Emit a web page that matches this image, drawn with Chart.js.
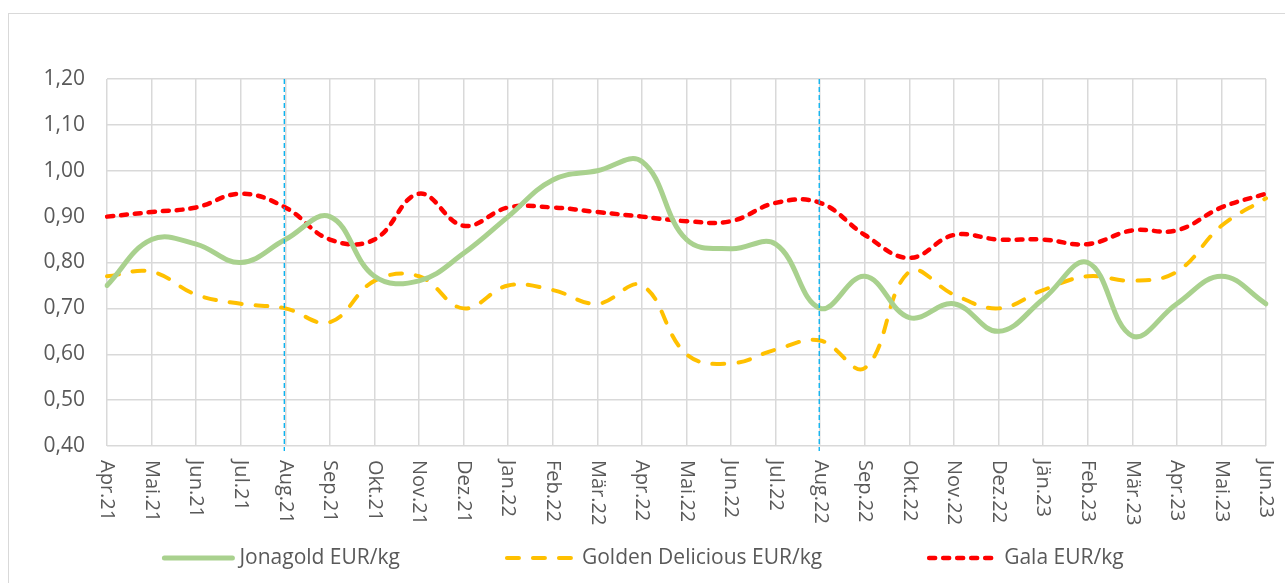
<!DOCTYPE html>
<html>
<head>
<meta charset="utf-8">
<script src="https://cdn.jsdelivr.net/npm/chart.js@4"></script>
<style>
  html, body { margin: 0; padding: 0; background: #fff; }
  #wrap { width: 1285px; height: 583px; }
</style>
</head>
<body>
<div id="wrap"><canvas id="grafico"></canvas></div>
<script>
const monate = ["Apr.21", "Mai.21", "Jun.21", "Jul.21", "Aug.21", "Sep.21", "Okt.21", "Nov.21", "Dez.21",
  "Jan.22", "Feb.22", "Mär.22", "Apr.22", "Mai.22", "Jun.22", "Jul.22", "Aug.22", "Sep.22", "Okt.22",
  "Nov.22", "Dez.22", "Jän.23", "Feb.23", "Mär.23", "Apr.23", "Mai.23", "Jun.23"];

const jonagold = [0.75, 0.85, 0.84, 0.80, 0.85, 0.90, 0.77, 0.76, 0.82, 0.90, 0.98, 1.00, 1.02, 0.85,
  0.83, 0.84, 0.70, 0.77, 0.68, 0.71, 0.65, 0.72, 0.80, 0.64, 0.71, 0.77, 0.71];
const golden = [0.77, 0.78, 0.73, 0.71, 0.70, 0.67, 0.76, 0.77, 0.70, 0.75, 0.74, 0.71, 0.75, 0.60,
  0.58, 0.61, 0.63, 0.57, 0.78, 0.73, 0.70, 0.74, 0.77, 0.76, 0.78, 0.88, 0.94];
const gala = [0.90, 0.91, 0.92, 0.95, 0.92, 0.85, 0.85, 0.95, 0.88, 0.92, 0.92, 0.91, 0.90, 0.89,
  0.89, 0.93, 0.93, 0.86, 0.81, 0.86, 0.85, 0.85, 0.84, 0.87, 0.87, 0.92, 0.95];

const markierungen = ["Aug.21", "Aug.22"]; // blaue Trennlinien

const schrift = "'Open Sans', sans-serif";
const grau = "#595959";

// Rahmen, Trennlinien, gedrehte Monatsnamen und Legende
const extras = {
  id: "extras",
  beforeDraw(chart) {
    const ctx = chart.ctx;
    ctx.save();
    ctx.strokeStyle = "#d9d9d9";
    ctx.lineWidth = 1;
    ctx.strokeRect(8.5, 13.5, 1300, 620);
    ctx.restore();
  },
  afterDatasetsDraw(chart) {
    const ctx = chart.ctx;
    const x = chart.scales.x;
    const area = chart.chartArea;
    ctx.save();
    ctx.strokeStyle = "#00b0f0";
    ctx.lineWidth = 1.3;
    ctx.setLineDash([5, 3]);
    markierungen.forEach((m) => {
      const px = x.getPixelForValue(monate.indexOf(m)) - 1;
      ctx.beginPath();
      ctx.moveTo(px, area.top);
      ctx.lineTo(px, area.bottom + 5);
      ctx.stroke();
    });
    ctx.restore();
  },
  afterDraw(chart) {
    const ctx = chart.ctx;
    const x = chart.scales.x;
    const area = chart.chartArea;
    ctx.save();
    ctx.fillStyle = grau;
    ctx.font = "20px " + schrift;
    ctx.textAlign = "left";
    ctx.textBaseline = "middle";
    monate.forEach((m, i) => {
      ctx.save();
      ctx.translate(x.getPixelForValue(i), area.bottom + 14);
      ctx.rotate(Math.PI / 2);
      ctx.fillText(m, 0, 0);
      ctx.restore();
    });

    // Legende
    ctx.font = "21px " + schrift;
    const probe = 74, abstand = 4, luecke = 104;
    const items = chart.data.datasets.map((d) => ({ d, w: probe + abstand + ctx.measureText(d.label).width }));
    const gesamt = items.reduce((s, it) => s + it.w, 0) + luecke * (items.length - 1);
    let lx = (chart.width - gesamt) / 2;
    const ly = 558;
    items.forEach((it) => {
      ctx.save();
      ctx.strokeStyle = it.d.borderColor;
      ctx.lineWidth = it.d.borderWidth;
      ctx.lineCap = it.d.borderCapStyle || "butt";
      ctx.setLineDash(it.d.borderDash || []);
      ctx.beginPath();
      ctx.moveTo(lx + 3, ly);
      ctx.lineTo(lx + probe - 3, ly);
      ctx.stroke();
      ctx.restore();
      ctx.fillText(it.d.label, lx + probe + abstand, ly);
      lx += it.w + luecke;
    });
    ctx.restore();
  }
};

new Chart(document.getElementById("grafico").getContext("2d"), {
  type: "line",
  data: {
    labels: monate,
    datasets: [
      {
        label: "Jonagold EUR/kg",
        data: jonagold,
        borderColor: "#a9d18e",
        borderWidth: 5,
        borderCapStyle: "round",
        pointRadius: 0,
        tension: 0.4,
        fill: false
      },
      {
        label: "Golden Delicious EUR/kg",
        data: golden,
        borderColor: "#ffc000",
        borderWidth: 4,
        borderCapStyle: "round",
        borderDash: [12, 14],
        pointRadius: 0,
        tension: 0.4,
        fill: false
      },
      {
        label: "Gala EUR/kg",
        data: gala,
        borderColor: "#ff0000",
        borderWidth: 4.5,
        borderCapStyle: "round",
        borderDash: [6, 8],
        pointRadius: 0,
        tension: 0.4,
        fill: false
      }
    ]
  },
  options: {
    responsive: true,
    maintainAspectRatio: false,
    animation: false,
    layout: { padding: { top: 79, right: 19, bottom: 137, left: 0 } },
    plugins: {
      legend: { display: false },
      tooltip: { enabled: false }
    },
    scales: {
      x: {
        offset: false,
        ticks: { display: false },
        grid: { color: "#d9d9d9", lineWidth: 1.5, drawTicks: false },
        border: { display: false }
      },
      y: {
        min: 0.4,
        max: 1.2,
        afterFit: (s) => { s.width = 107; },
        ticks: {
          stepSize: 0.1,
          padding: 22,
          color: grau,
          font: { family: schrift, size: 21 },
          callback: (v) => v.toFixed(2).replace(".", ",")
        },
        grid: { color: "#d9d9d9", lineWidth: 1.5, drawTicks: false },
        border: { display: false }
      }
    }
  },
  plugins: [extras]
});
</script>
</body>
</html>
